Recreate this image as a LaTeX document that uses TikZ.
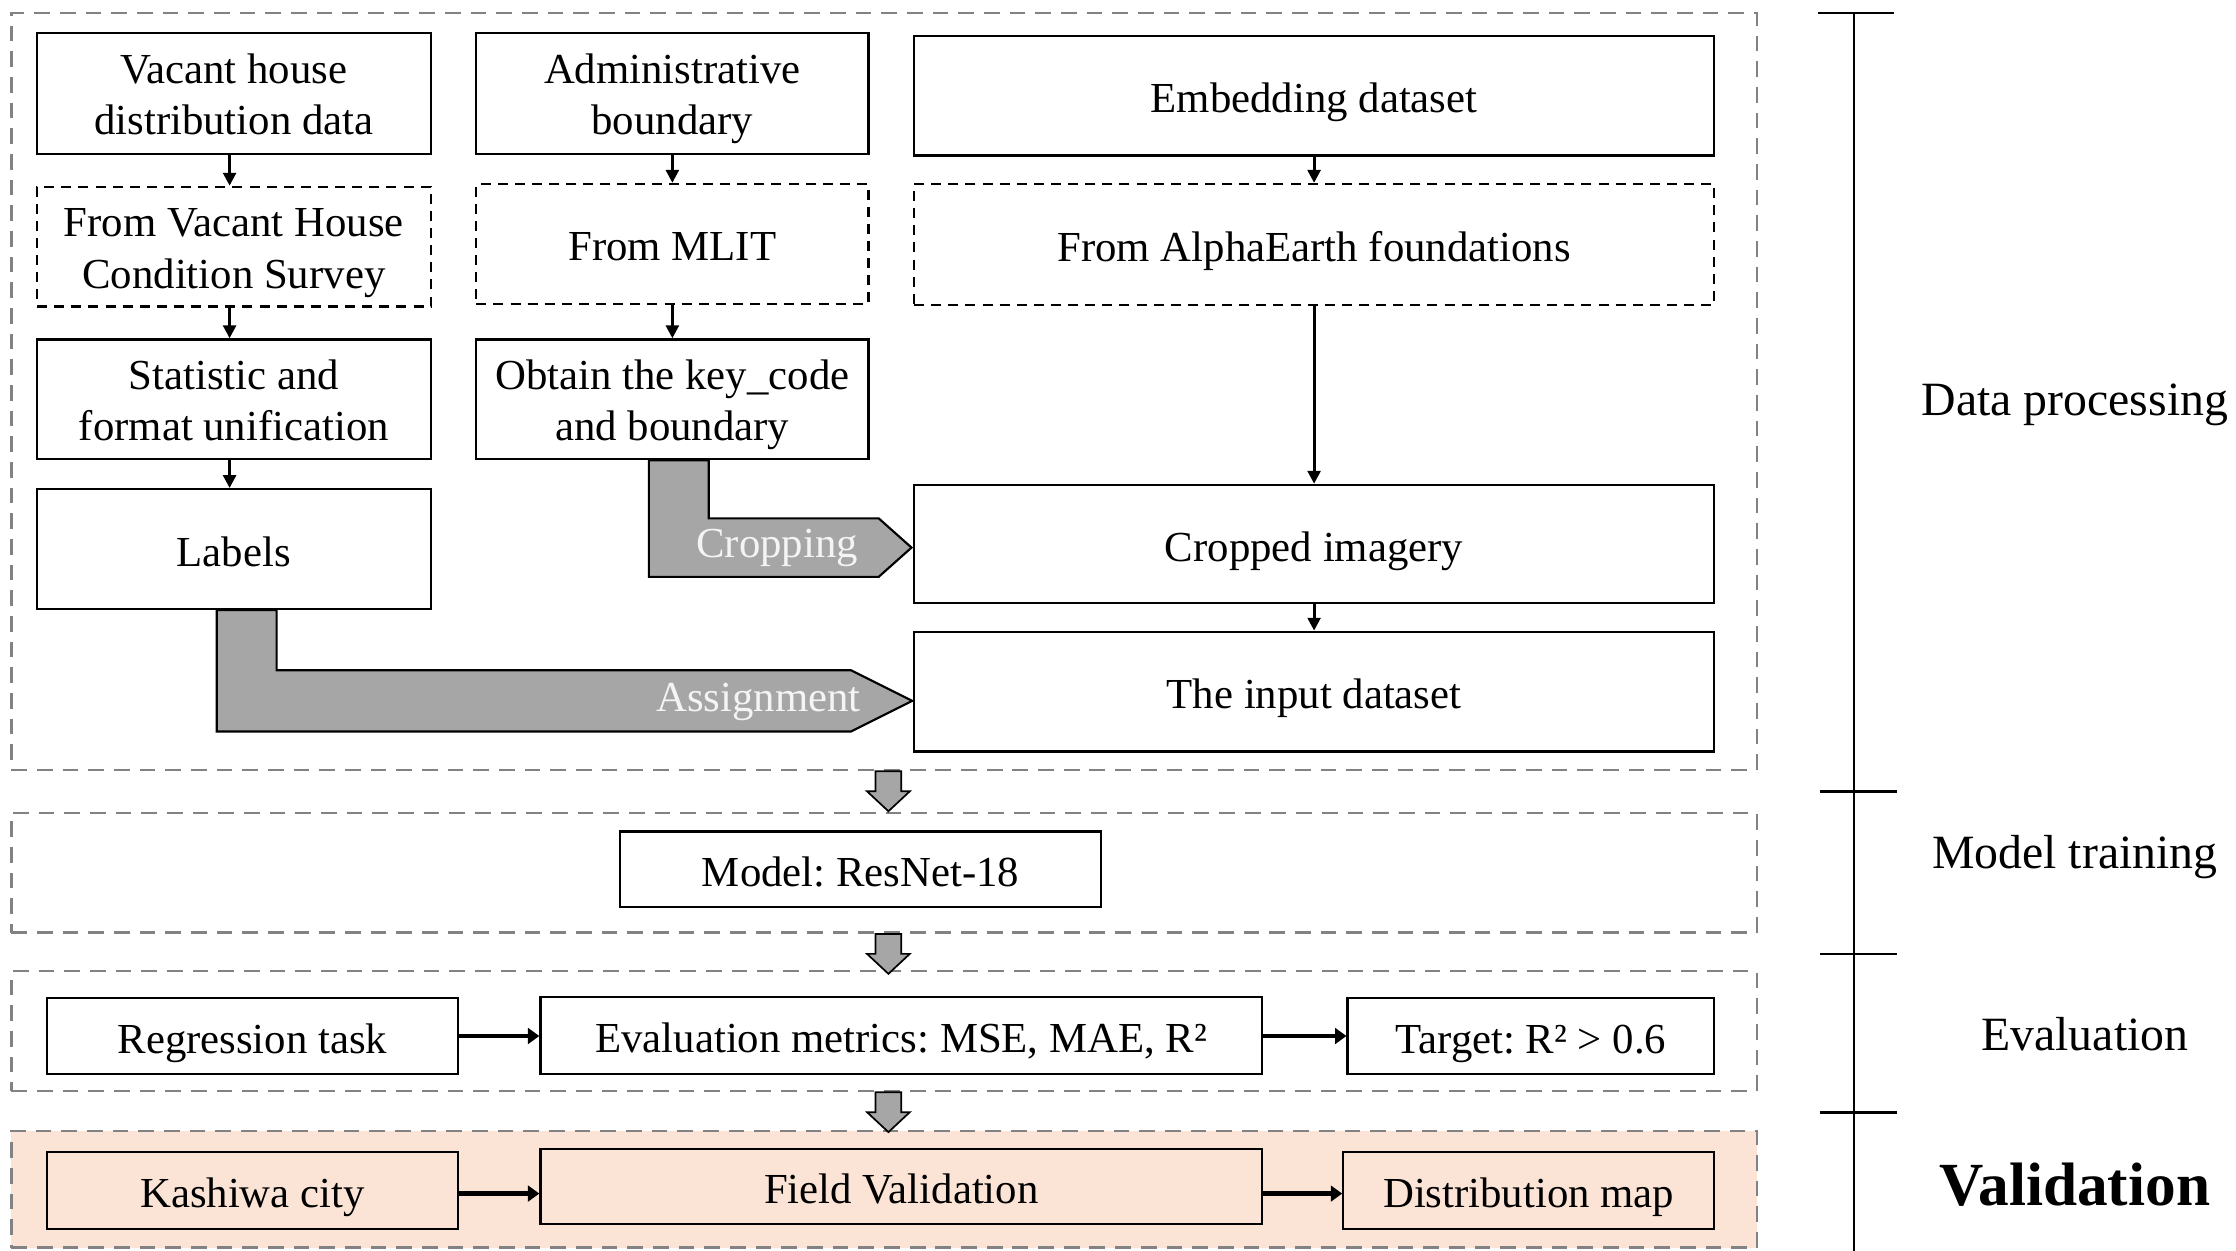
\documentclass[tikz,border=0pt]{standalone}
\usepackage{fontspec}
\setmainfont{Liberation Serif}
\usetikzlibrary{arrows.meta,calc}
\definecolor{peach}{HTML}{FBE4D6}
\definecolor{blockgray}{HTML}{A6A6A6}
\definecolor{framegray}{HTML}{828282}
\definecolor{lbl}{HTML}{F4F4F4}
% struts that fix line height and depth so every box places its baselines alike
\newcommand\firstfix{\rule[-7pt]{0pt}{38pt}}
\newcommand\toprow{\rule{0pt}{29pt}}
\newcommand\lastfix{\rule[-7pt]{0pt}{35pt}}

\begin{document}
\frenchspacing
\begin{tikzpicture}[x=1pt,y=-1pt,
  txt/.style={font=\fontsize{30}{36}\selectfont},
  stepbox/.style={txt,draw,line width=1.6pt,inner sep=0pt,align=center,
    execute at begin node=\firstfix,execute at end node=\lastfix},
  srcbox/.style={stepbox,dash pattern=on 7pt off 5pt},
  frame/.style={draw=framegray,line width=1.8pt,dash pattern=on 11pt off 7pt,inner sep=0pt},
  smallarrow/.style={line width=2pt,-{Triangle[width=9pt,length=9pt]}},
  bigarrow/.style={line width=3.2pt,-{Triangle[width=11pt,length=8pt]}},
  blockarrow/.style={draw=black,line width=1.5pt,fill=blockgray,line join=miter},
  arrowtext/.style={txt,text=lbl,inner sep=0pt},
  phase/.style={font=\fontsize{33.5}{38}\selectfont,inner sep=0pt},
  tick/.style={line width=1.8pt}
]
\useasboundingbox (0,0) rectangle (1568,877);

% stage frames
\node[frame,minimum width=1224pt,minimum height=531pt] (sec1) at (620,274.5) {};
\node[frame,minimum width=1224pt,minimum height=84pt] (sec2) at (620,612) {};
\node[frame,minimum width=1224pt,minimum height=84pt] (sec3) at (620,723) {};
\node[frame,fill=peach,minimum width=1224pt,minimum height=82pt] (sec4) at (620,834) {};

% data processing: first column
\node[stepbox,minimum width=276pt,minimum height=85pt] (vac) at (164,65.5) {\toprow Vacant house\\distribution data};
\node[srcbox,minimum width=276pt,minimum height=84pt] (fvac) at (164,173) {\toprow From Vacant House\\Condition Survey};
\node[stepbox,minimum width=276pt,minimum height=84pt] (stat) at (164,280) {\toprow Statistic and\\format unification};
\node[stepbox,minimum width=276pt,minimum height=84pt] (lab) at (164,385) {Labels};

% data processing: second column
\node[stepbox,minimum width=275pt,minimum height=85pt] (adm) at (471.5,65.5) {\toprow Administrative\\boundary};
\node[srcbox,minimum width=275pt,minimum height=84pt] (mlit) at (471.5,171) {From MLIT};
\node[stepbox,minimum width=275pt,minimum height=84pt] (obt) at (471.5,280) {\toprow Obtain the key\_code\\and boundary};

% data processing: third column
\node[stepbox,minimum width=561pt,minimum height=84pt] (emb) at (921.5,67) {Embedding dataset};
\node[srcbox,minimum width=561pt,minimum height=85pt] (alpha) at (921.5,171.5) {From AlphaEarth foundations};
\node[stepbox,minimum width=561pt,minimum height=83pt] (crop) at (921.5,381.5) {Cropped imagery};
\node[stepbox,minimum width=561pt,minimum height=84pt] (inp) at (921.5,485) {The input dataset};

\draw[smallarrow] ($(vac.south)+(-3,0)$) -- ($(fvac.north)+(-3,0)$);
\draw[smallarrow] ($(fvac.south)+(-3,0)$) -- ($(stat.north)+(-3,0)$);
\draw[smallarrow] ($(stat.south)+(-3,0)$) -- ($(lab.north)+(-3,0)$);
\draw[smallarrow] (adm) -- (mlit);
\draw[smallarrow] (mlit) -- (obt);
\draw[smallarrow] (emb) -- (alpha);
\draw[smallarrow] (alpha) -- (crop);
\draw[smallarrow] (crop) -- (inp);

% elbow block arrow: key_code and boundary -> cropped imagery
\coordinate (cropTip) at ($(crop.west)+(-1,2.5)$);
\coordinate (cL) at ($(obt.south)+(-16.5,0)$);
\coordinate (cR) at ($(obt.south)+(25.5,0)$);
\coordinate (cTop) at ($(cropTip)+(0,-20.5)$);
\coordinate (cBot) at ($(cropTip)+(0,20.5)$);
\draw[blockarrow] (cL) -- (cR) -- (cR |- cTop) -- ($(cTop)+(-23,0)$)
  -- (cropTip) -- ($(cBot)+(-23,0)$) -- (cL |- cBot) -- cycle;
\node[arrowtext] (cropLbl) at (545,384) {Cropping};

% elbow block arrow: labels -> input dataset
\coordinate (inpTip) at ($(inp.west)+(-0.5,6.5)$);
\coordinate (aL) at ($(lab.south)+(-12,0)$);
\coordinate (aR) at ($(lab.south)+(30,0)$);
\coordinate (aTop) at ($(inpTip)+(0,-21.5)$);
\coordinate (aBot) at ($(inpTip)+(0,21.5)$);
\draw[blockarrow] (aL) -- (aR) -- (aR |- aTop) -- ($(aTop)+(-43,0)$)
  -- (inpTip) -- ($(aBot)+(-43,0)$) -- (aL |- aBot) -- cycle;
\node[arrowtext] (assignLbl) at (532,492) {Assignment};

% model training
\node[stepbox,minimum width=337pt,minimum height=53pt] (model) at (603.5,609.5) {Model: ResNet-18};

% evaluation
\node[stepbox,minimum width=288pt,minimum height=53pt] (reg) at (177,726.5) {Regression task};
\node[stepbox,minimum width=506pt,minimum height=54pt] (metr) at (632,726) {Evaluation metrics: MSE, MAE, R²};
\node[stepbox,minimum width=257pt,minimum height=53pt] (targ) at (1073.5,726.5) {Target: R² > 0.6};
\draw[bigarrow] (reg.east) -- (metr.west |- reg.east);
\draw[bigarrow] (metr.east |- targ.west) -- (targ.west);

% validation
\node[stepbox,minimum width=288pt,minimum height=54pt] (kash) at (177,835) {Kashiwa city};
\node[stepbox,minimum width=506pt,minimum height=53pt] (field) at (632,832) {Field Validation};
\node[stepbox,minimum width=260pt,minimum height=54pt] (dist) at (1072,835) {Distribution map};
\coordinate (k1) at ($(kash.east)+(0,2)$);
\coordinate (d1) at ($(dist.west)+(0,2)$);
\draw[bigarrow] (k1) -- (field.west |- k1);
\draw[bigarrow] (field.east |- d1) -- (d1);

% gray arrows between stages
\foreach \a/\b in {sec1/g1,sec2/g2,sec3/g3}{
  \coordinate (\b) at ($(\a.south)+(3,0)$);
  \draw[blockarrow,line width=1.2pt] ($(\b)+(-9,0)$) -- ++(18,0) -- ++(0,14) -- ++(6,0)
    -- ++(-15,14) -- ++(-15,-14) -- ++(6,0) -- cycle;
}

% stage axis
\coordinate (axTop) at (1300,9);
\coordinate (axBot) at (1300,877);
\draw[tick] (axTop) -- (axBot);
\draw[tick] (1275,9) -- (1328,9);
\draw[tick] (1276,555) -- (1330,555);
\draw[tick] (1276,669) -- (1330,669);
\draw[tick] (1276,780) -- (1330,780);
\node[phase] (pData) at (1455,284) {Data processing};
\node[phase] (pModel) at (1455,601) {Model training};
\node[phase] (pEval) at (1462,725) {Evaluation};
\node[phase,font=\fontsize{43}{50}\selectfont\bfseries] (pVal) at (1455,831) {Validation};
\end{tikzpicture}
\end{document}
